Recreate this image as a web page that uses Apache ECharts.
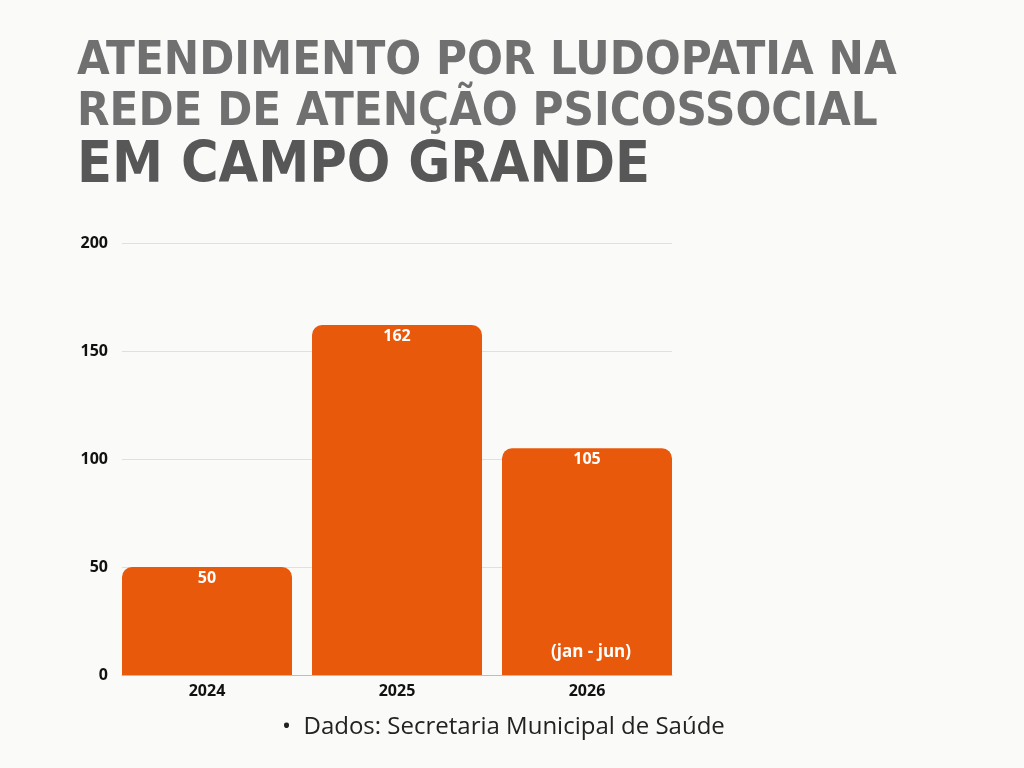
<!DOCTYPE html>
<html>
<head>
<meta charset="utf-8">
<script src="https://cdn.jsdelivr.net/npm/echarts@6/dist/echarts.min.js"></script>
<style>
  html, body { margin: 0; padding: 0; background: #fafaf8; }
  #chart { width: 1024px; height: 768px; }
</style>
</head>
<body>
<div id="chart"></div>
<script>
var anos = ['2024', '2025', '2026'];
var atendimentos = [50, 162, 105];
var yTicks = [0, 50, 100, 150, 200];

var laranja = '#e9590c';
var fonteTitulo = '"DejaVu Sans Condensed", "Liberation Sans Narrow", sans-serif';
var fonteEixo = '"Open Sans", Lato, sans-serif';

var myChart = echarts.init(document.getElementById('chart'));
var option = {
    backgroundColor: '#fafaf8',
    graphic: [
        {
            type: 'text', left: 77, top: 38,
            style: {
                text: 'ATENDIMENTO POR LUDOPATIA NA',
                font: 'bold 47px ' + fonteTitulo,
                fill: '#707070'
            }
        },
        {
            type: 'text', left: 77, top: 89,
            style: {
                text: 'REDE DE ATENÇÃO PSICOSSOCIAL',
                font: 'bold 47px ' + fonteTitulo,
                fill: '#707070'
            }
        },
        {
            type: 'text', left: 77, top: 139,
            style: {
                text: 'EM CAMPO GRANDE',
                font: 'bold 57px ' + fonteTitulo,
                fill: '#575757'
            }
        },
        {
            type: 'text', left: 282, top: 715,
            style: {
                text: '•  Dados: Secretaria Municipal de Saúde',
                font: '24px "Open Sans", Lato, sans-serif',
                fill: '#222'
            }
        }
    ],
    grid: [
        {left: 122, right: 352, top: 243, height: 432},
        {left: 112, right: 342, top: 243, height: 432}
    ],
    xAxis: [
        {
            type: 'category', gridIndex: 0, data: anos,
            axisTick: {show: false},
            axisLabel: {show: false},
            axisLine: {lineStyle: {color: '#bdbdbd'}}
        },
        {
            type: 'category', gridIndex: 1, data: anos,
            axisTick: {show: false},
            axisLine: {show: false},
            axisLabel: {
                margin: 8,
                color: '#111',
                fontWeight: 'bold',
                fontSize: 16,
                fontFamily: fonteEixo
            }
        }
    ],
    yAxis: [
        {
            type: 'value', gridIndex: 0,
            min: yTicks[0], max: yTicks[yTicks.length - 1], interval: 50,
            axisLabel: {
                margin: 14,
                color: '#111',
                fontWeight: 'bold',
                fontSize: 16,
                fontFamily: fonteEixo
            },
            splitLine: {lineStyle: {color: '#e0e0e0'}}
        },
        {
            type: 'value', gridIndex: 1,
            min: yTicks[0], max: yTicks[yTicks.length - 1], interval: 50,
            show: false,
            splitLine: {show: false}
        }
    ],
    series: [
        {
            type: 'bar',
            xAxisIndex: 1,
            yAxisIndex: 1,
            data: atendimentos,
            barWidth: 170,
            itemStyle: {color: laranja, borderRadius: [10, 10, 0, 0]},
            label: {
                show: true,
                position: 'insideTop',
                distance: 3,
                color: '#fff',
                fontWeight: 'bold',
                fontSize: 16,
                fontFamily: fonteEixo
            },
            markPoint: {
                symbol: 'circle',
                symbolSize: 0,
                data: [{coord: [2, 0]}],
                label: {
                    show: true,
                    formatter: '(jan - jun)',
                    offset: [4, -23],
                    color: '#fff',
                    fontWeight: 'bold',
                    fontSize: 17,
                    fontFamily: fonteEixo
                }
            }
        }
    ]
};
myChart.setOption(option);
</script>
</body>
</html>
